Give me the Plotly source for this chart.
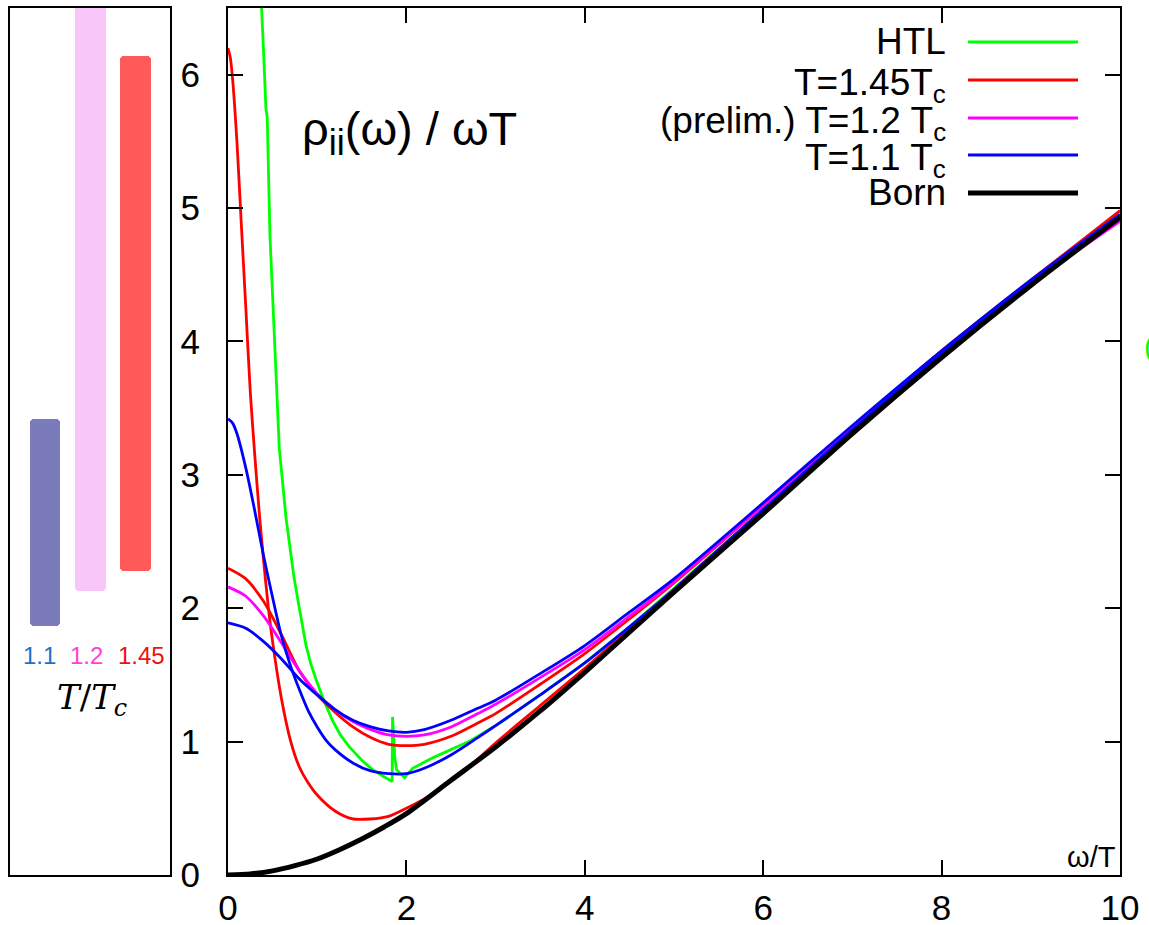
import plotly.graph_objects as go

W, H = 1149, 925

# ---- spectral function rho_ii(omega) / (omega T) versus omega/T ----
born_x = [0, 0.25, 0.5, 0.75, 1.0, 1.25, 1.5, 1.75, 2.0, 2.5, 3.0, 3.5, 4.0, 4.5, 5, 6, 7, 8, 9, 10]
born_y = [0, 0.008, 0.031, 0.07, 0.12, 0.19, 0.27, 0.36, 0.46, 0.71, 0.96, 1.23, 1.52, 1.82, 2.12, 2.71, 3.31, 3.88, 4.42, 4.93]

htl_x = [0.36, 0.38, 0.40, 0.425, 0.44, 0.47, 0.54, 0.575, 0.65, 0.74, 0.8, 0.875, 0.93, 0.99, 1.08, 1.17, 1.26,
         1.36, 1.5, 1.62, 1.74, 1.84, 1.845, 1.87, 1.89, 1.98, 2.07, 2.3, 2.7, 3.05, 3.5, 4.0, 4.5, 5, 6, 7, 8, 9, 10]
htl_y = [6.75, 6.5, 6.15, 5.75, 5.68, 4.8, 3.8, 3.2, 2.68, 2.23, 2.0, 1.72, 1.58, 1.46, 1.30, 1.16, 1.05,
         0.96, 0.86, 0.79, 0.74, 0.70, 1.185, 0.88, 0.79, 0.73, 0.80, 0.88, 1.0, 1.14, 1.35, 1.59, 1.86, 2.15, 2.74,
         3.33, 3.90, 4.43, 4.93]

# T = 1.45 Tc, two reconstructions
t145a_x = [0, 0.025, 0.05, 0.1, 0.15, 0.2, 0.25, 0.3, 0.35, 0.4, 0.45, 0.5, 0.6, 0.7, 0.8, 0.9, 1.0, 1.2, 1.4, 1.6,
           1.8, 2.0, 2.3, 2.7, 3.0, 3.5, 4.0, 4.5, 5, 6, 7, 8, 9, 10]
t145a_y = [6.2, 6.13, 5.98, 5.5, 4.87, 4.25, 3.62, 3.15, 2.72, 2.35, 2.02, 1.75, 1.32, 1.01, 0.81, 0.69, 0.60, 0.48,
           0.42, 0.42, 0.44, 0.50, 0.61, 0.81, 0.99, 1.27, 1.55, 1.84, 2.14, 2.74, 3.34, 3.91, 4.45, 4.98]
t145b_x = [0, 0.2, 0.4, 0.6, 0.8, 1.0, 1.2, 1.4, 1.6, 1.8, 2.0, 2.2, 2.5, 2.8, 3.0, 3.5, 4.0, 4.5, 5, 6, 7, 8, 9, 10]
t145b_y = [2.30, 2.22, 2.05, 1.80, 1.53, 1.35, 1.22, 1.11, 1.03, 0.98, 0.97, 0.98, 1.04, 1.14, 1.21, 1.43, 1.66, 1.92,
           2.19, 2.77, 3.36, 3.93, 4.46, 4.98]

# T = 1.2 Tc (preliminary)
t12_x = [0, 0.2, 0.4, 0.6, 0.8, 1.0, 1.2, 1.4, 1.6, 1.8, 2.0, 2.2, 2.5, 2.8, 3.0, 3.5, 4.0, 4.5, 5, 6, 7, 8, 9, 10]
t12_y = [2.16, 2.09, 1.94, 1.74, 1.53, 1.36, 1.24, 1.15, 1.09, 1.05, 1.04, 1.05, 1.11, 1.21, 1.28, 1.48, 1.69, 1.94,
         2.20, 2.77, 3.35, 3.91, 4.43, 4.90]

# T = 1.1 Tc, two reconstructions
t11a_x = [0, 0.05, 0.1, 0.2, 0.3, 0.4, 0.5, 0.6, 0.7, 0.8, 0.9, 1.0, 1.1, 1.2, 1.4, 1.6, 1.8, 2.0, 2.2, 2.5, 2.8, 3.0,
          3.5, 4.0, 4.5, 5, 6, 7, 8, 9, 10]
t11a_y = [3.42, 3.39, 3.31, 3.05, 2.73, 2.39, 2.08, 1.79, 1.57, 1.39, 1.23, 1.11, 1.01, 0.94, 0.84, 0.78, 0.76, 0.76,
          0.80, 0.90, 1.03, 1.12, 1.35, 1.59, 1.86, 2.14, 2.74, 3.34, 3.91, 4.45, 4.95]
t11b_x = [0, 0.2, 0.4, 0.6, 0.8, 1.0, 1.2, 1.4, 1.6, 1.8, 2.0, 2.2, 2.5, 2.8, 3.0, 3.5, 4.0, 4.5, 5, 6, 7, 8, 9, 10]
t11b_y = [1.89, 1.85, 1.75, 1.62, 1.47, 1.35, 1.24, 1.16, 1.11, 1.08, 1.07, 1.09, 1.16, 1.25, 1.31, 1.51, 1.72, 1.97,
          2.22, 2.79, 3.37, 3.93, 4.46, 4.95]

# ---- side panel: spread of the omega -> 0 intercept per temperature ----
band_labels = ["1.1", "1.2", "1.45"]
band_low = [1.87, 2.13, 2.28]
band_high = [3.42, 6.6, 6.14]
band_fill = ["#7b7bbb", "#f9c6f9", "#ff5a5a"]
band_text_col = ["#1b72c8", "#ff40d8", "#ee1111"]

# ---- legend entries (drawn by hand: text left of the sample line) ----
legend_names = ["HTL", "T=1.45T<sub>c</sub>", "(prelim.) T=1.2 T<sub>c</sub>", "T=1.1 T<sub>c</sub>", "Born"]
legend_cols = ["#00ff00", "#ff0000", "#ff00ff", "#0000ff", "#000000"]
legend_widths = [3, 3, 3, 3, 5]

FONT = "Liberation Sans, Arial, Helvetica, sans-serif"

fig = go.Figure()

curves = [
    (htl_x, htl_y, "#00ff00", 2.8, "linear"),
    (t145a_x, t145a_y, "#ff0000", 2.8, "spline"),
    (t145b_x, t145b_y, "#ff0000", 2.8, "spline"),
    (t12_x, t12_y, "#ff00ff", 2.8, "spline"),
    (t11a_x, t11a_y, "#0000ff", 2.8, "spline"),
    (t11b_x, t11b_y, "#0000ff", 2.8, "spline"),
    (born_x, born_y, "#000000", 5, "spline"),
]
for xs, ys, col, lw, shape in curves:
    fig.add_trace(go.Scatter(
        x=xs, y=ys, mode="lines", showlegend=False, hoverinfo="skip",
        line=dict(color=col, width=lw, shape=shape, smoothing=0.8 if shape == "spline" else None),
        xaxis="x", yaxis="y",
    ))

fig.add_trace(go.Bar(
    x=[0, 1, 2], y=[h - l for l, h in zip(band_low, band_high)], base=band_low,
    width=0.68, marker=dict(color=band_fill, line=dict(width=0), cornerradius=4),
    showlegend=False, hoverinfo="skip", xaxis="x2", yaxis="y2",
))

x0, x1 = 228 / W, 1120 / W
y0, y1 = 50 / H, 1 - 8 / H

axis_common = dict(showgrid=False, zeroline=False, showline=True, linecolor="black", linewidth=2,
                   mirror="ticks", ticks="inside", ticklen=15, tickwidth=2, tickcolor="black", automargin=False,
                   tickfont=dict(family=FONT, size=35, color="black"))
panel_axis = dict(showgrid=False, zeroline=False, showline=True, mirror=True, linecolor="black", linewidth=2,
                  showticklabels=False, ticks="", automargin=False)

fig.update_layout(
    template="none",
    width=W, height=H, margin=dict(l=0, r=0, t=0, b=0, pad=0, autoexpand=False), autosize=False,
    paper_bgcolor="white", plot_bgcolor="white", bargap=0, showlegend=False,
    xaxis=dict(domain=[x0, x1], range=[0, 10], tickvals=[0, 2, 4, 6, 8, 10], anchor="y",
               ticklabelstandoff=1, **axis_common),
    yaxis=dict(domain=[y0, y1], range=[0, 6.5], tickvals=[0, 1, 2, 3, 4, 5, 6], anchor="x",
               ticklabelstandoff=19, **axis_common),
    xaxis2=dict(domain=[10 / W, 170 / W], range=[-0.773, 2.763], anchor="y2", **panel_axis),
    yaxis2=dict(domain=[y0, y1], range=[0, 6.5], anchor="x2", **panel_axis),
)

ann = []
# panel title
ann.append(dict(text="ρ<sub><span style='font-size:36px'>ii</span></sub>(ω) / ωT", x=300 / W, y=1 - 132 / H,
                xref="paper", yref="paper", xanchor="left", yanchor="middle", showarrow=False,
                font=dict(family=FONT, size=47, color="black")))
# x-axis label inside the frame
ann.append(dict(text="ω/T", x=1118 / W, y=1 - 857 / H, xref="paper", yref="paper",
                xanchor="right", yanchor="middle", showarrow=False,
                font=dict(family=FONT, size=29, color="black")))
# green glyph at the right edge
ann.append(dict(text="(", x=1142 / W, y=1 - 347 / H, xref="paper", yref="paper",
                xanchor="left", yanchor="middle", showarrow=False,
                font=dict(family=FONT, size=30, color="#00ff00")))
# side-panel temperature labels
label_px = [39, 86, 141]
for lab, col, px in zip(band_labels, band_text_col, label_px):
    ann.append(dict(text=lab, x=px / W, y=1 - 655 / H, xref="paper", yref="paper", xanchor="center",
                    yanchor="middle", showarrow=False, font=dict(family=FONT, size=24, color=col)))
ann.append(dict(text="<i>T</i>/<i>T</i><sub><i>c</i></sub>", x=92 / W, y=1 - 699 / H, xref="paper", yref="paper",
                xanchor="center", yanchor="middle", showarrow=False,
                font=dict(family="DejaVu Serif, Liberation Serif, serif", size=34, color="black")))

shapes = []
row_y = [42, 80, 118, 155, 193]
for name, col, lw, ry in zip(legend_names, legend_cols, legend_widths, row_y):
    has_sub = "<sub>" in name
    ann.append(dict(text=name, x=948 / W, y=1 - (ry + (5 if has_sub else 0)) / H, xref="paper", yref="paper",
                    xanchor="right", yanchor="middle", showarrow=False,
                    font=dict(family=FONT, size=37, color="black")))
    shapes.append(dict(type="line", xref="paper", yref="paper", x0=968 / W, x1=1078 / W,
                       y0=1 - ry / H, y1=1 - ry / H, line=dict(color=col, width=lw)))

fig.update_layout(annotations=ann, shapes=shapes)

fig.write_html(
    "out.html",
    post_script="document.body.style.margin='0';document.body.style.overflow='hidden';",
)
